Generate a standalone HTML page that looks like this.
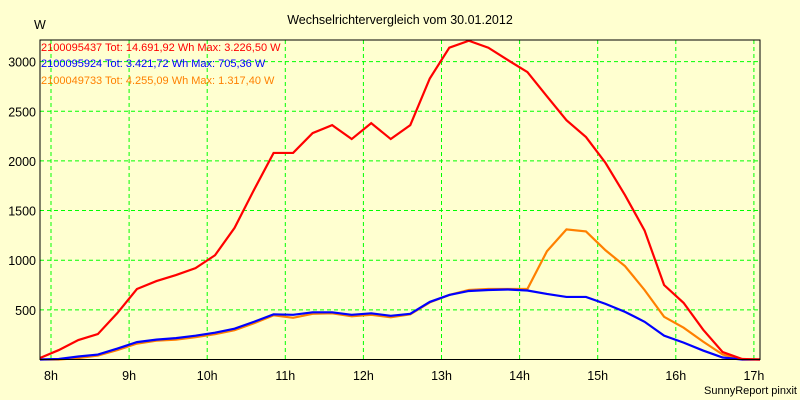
<!DOCTYPE html>
<html><head><meta charset="utf-8"><style>
body{margin:0;background:#ffffd0;}
svg{display:block;font-family:"Liberation Sans",sans-serif;}
</style></head><body>
<svg id="chart" width="800" height="400" viewBox="0 0 800 400">
<rect width="800" height="400" fill="#ffffd0"/>
<text x="400" y="24" text-anchor="middle" font-size="12.5" fill="#000">Wechselrichtervergleich vom 30.01.2012</text>
<text x="34" y="29" font-size="12.5" fill="#000">W</text>
<g id="grid"></g><g id="series"></g><g id="labels"></g>
<rect x="40" y="40" width="720" height="319.5" fill="none" stroke="#000" stroke-width="1"/>
<text x="41" y="51" font-size="11" fill="#ff0000">2100095437 Tot: 14.691,92 Wh Max: 3.226,50 W</text>
<text x="41" y="67" font-size="11" fill="#0000ff">2100095924 Tot: 3.421,72 Wh Max: 705,36 W</text>
<text x="41" y="84" font-size="11" fill="#ff8000">2100049733 Tot: 4.255,09 Wh Max: 1.317,40 W</text>
<text x="797" y="394" text-anchor="end" font-size="11" fill="#000">SunnyReport pinxit</text>
</svg>
<script>
const hourTicks=[8,9,10,11,12,13,14,15,16,17];
const yTicks=[500,1000,1500,2000,2500,3000];
const times=[7.85,8.1,8.35,8.6,8.85,9.1,9.35,9.6,9.85,10.1,10.35,10.6,10.85,11.1,11.35,11.6,11.85,12.1,12.35,12.6,12.85,13.1,13.35,13.6,13.85,14.1,14.35,14.6,14.85,15.1,15.35,15.6,15.85,16.1,16.35,16.6,16.85,17.1];
const redValues=[15,95,196,256,468,710,790,850,920,1050,1325,1710,2080,2080,2280,2360,2220,2380,2220,2360,2830,3140,3210,3140,3015,2895,2650,2410,2240,1980,1655,1300,750,570,300,75,5,0];
const blueValues=[0,5,30,50,110,175,200,215,240,270,310,380,455,450,475,475,450,465,440,460,580,650,690,700,705,695,660,630,630,560,480,380,240,170,90,20,0,0];
const orangeValues=[0,0,15,40,95,160,190,200,225,255,295,365,445,420,460,465,435,450,425,455,575,650,700,710,710,710,1090,1310,1290,1100,940,700,430,320,180,50,0,0];
const NS="http://www.w3.org/2000/svg";
function xs(h){return Math.max(40,Math.min(760,51+(h-8)*78.1));}
function ys(v){return 359.5-v*0.0993;}
const grid=document.getElementById('grid'),labels=document.getElementById('labels'),series=document.getElementById('series');
hourTicks.forEach(h=>{
 const l=document.createElementNS(NS,'line');
 l.setAttribute('x1',xs(h));l.setAttribute('x2',xs(h));l.setAttribute('y1',40);l.setAttribute('y2',359);
 l.setAttribute('stroke','#00ff00');l.setAttribute('stroke-dasharray','4,3');
 
 
 grid.appendChild(l);
 const t=document.createElementNS(NS,'text');
 t.setAttribute('x',xs(h));t.setAttribute('y',380);t.setAttribute('text-anchor','middle');t.setAttribute('font-size','12.5');
 t.textContent=h+'h';
 
 
 labels.appendChild(t);
});
yTicks.forEach(v=>{
 const l=document.createElementNS(NS,'line');
 l.setAttribute('x1',40);l.setAttribute('x2',760);l.setAttribute('y1',ys(v));l.setAttribute('y2',ys(v));
 l.setAttribute('stroke','#00ff00');l.setAttribute('stroke-dasharray','4,3');
 
 
 grid.appendChild(l);
 const t=document.createElementNS(NS,'text');
 t.setAttribute('x',36);t.setAttribute('y',ys(v)+5);t.setAttribute('text-anchor','end');t.setAttribute('font-size','12.5');
 t.textContent=v;
 
 
 labels.appendChild(t);
});
function draw(vals,color,name){
 const p=document.createElementNS(NS,'polyline');
 p.setAttribute('points',vals.map((v,i)=>xs(times[i])+','+ys(v)).join(' '));
 p.setAttribute('fill','none');p.setAttribute('stroke',color);p.setAttribute('stroke-width','2.2');
 
 
 series.appendChild(p);
}
draw(orangeValues,'#ff8000','series-2100049733');
draw(blueValues,'#0000ff','series-2100095924');
draw(redValues,'#ff0000','series-2100095437');
</script>
</body></html>
